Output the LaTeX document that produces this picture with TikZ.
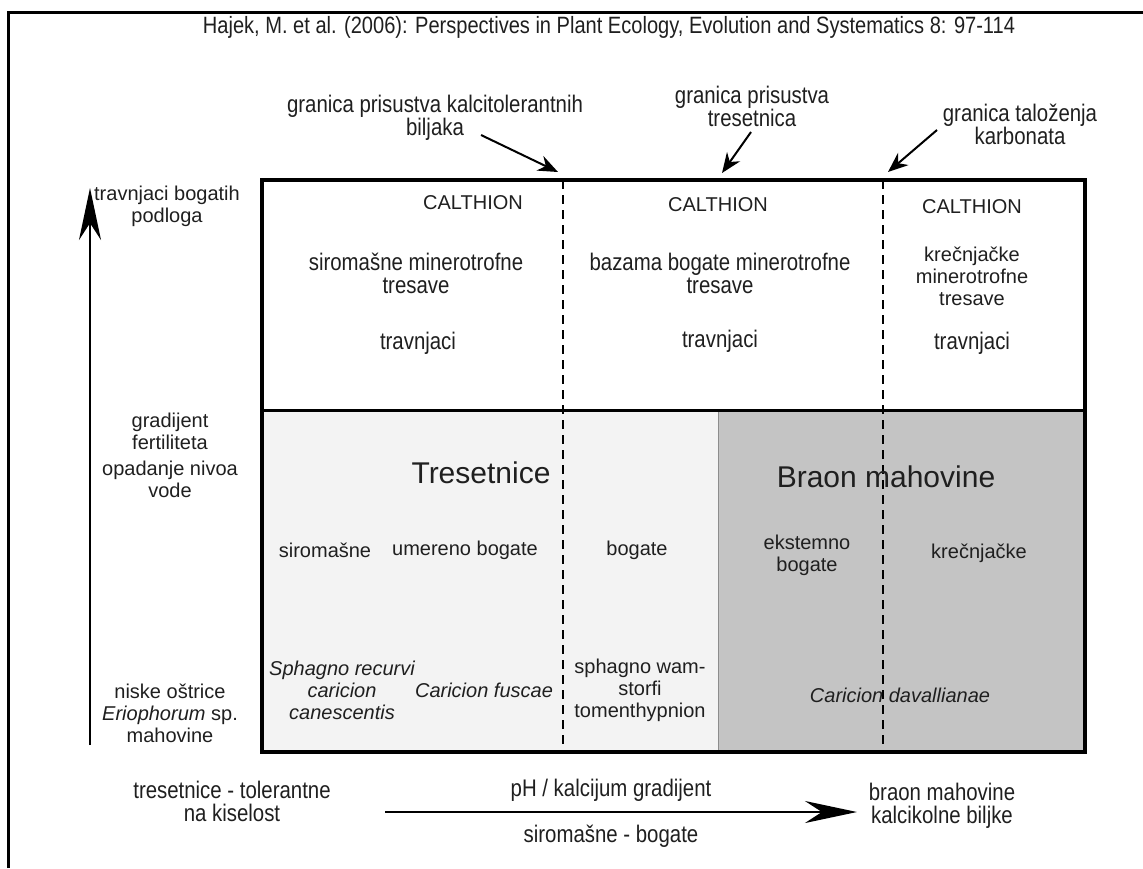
\documentclass[tikz,border=0pt]{standalone}
\usepackage{fontspec}
\setmainfont{Liberation Sans}
\newfontfamily\uskifont{Liberation Sans}[FakeStretch=0.85]
\usetikzlibrary{arrows.meta}
\definecolor{svijetlo}{HTML}{F3F3F3}
\definecolor{sivo}{HTML}{C4C4C4}
\tikzset{
	txt/.style = {align=center, inner sep=0pt, text=black!88},
	txt_u/.style = {txt, font=\uskifont\fontsize{12}{11.5}\selectfont},% uski font
	txt_r/.style = {txt, font=\fontsize{10}{11}\selectfont},% obicni font
	txt_i/.style = {txt, font=\fontsize{10}{11}\selectfont\itshape},% latinski nazivi
	txt_v/.style = {txt, font=\fontsize{15}{18}\selectfont},% veliki natpisi
	strelica/.style = {-{Stealth[length=10pt,width=8pt]}, line width=1pt},
	strelica_v/.style = {-{Stealth[length=26pt,width=11pt]}, line width=1.4pt},
	granica/.style = {dash pattern=on 4.5pt off 3pt, line width=0.7pt}
}

\begin{document}
\begin{tikzpicture}[x=0.5pt, y=-0.5pt]
	\useasboundingbox (0,0) rectangle (1143,868);
	\draw[line width=1.5pt] (8,868) -- (8,12) -- (1143,12);
	\node[txt, font=\uskifont\fontsize{11.8}{14}\selectfont] (naslov) at (609,27)
		{Hajek, M. et al. (2006): Perspectives in Plant Ecology, Evolution and Systematics 8: 97-114};
	% granice iznad tabele
	\node[txt_u] (grA) at (435,118) {granica prisustva kalcitolerantnih\\biljaka};
	\node[txt_u] (grB) at (752,106) {granica prisustva\\tresetnica};
	\node[txt_u] (grC) at (1020,124) {granica taloženja\\karbonata};
	\coordinate (grA_s) at (481,135); \coordinate (grA_k) at (558,172);
	\coordinate (grB_s) at (751,132); \coordinate (grB_k) at (722,173);
	\coordinate (grC_s) at (937,130); \coordinate (grC_k) at (888,172);
	\draw[strelica] (grA_s) -- (grA_k);
	\draw[strelica] (grB_s) -- (grB_k);
	\draw[strelica] (grC_s) -- (grC_k);
	% tabela
	\fill[svijetlo] (262,410) rectangle (718,752);
	\fill[sivo] (718,410) rectangle (1085,752);
	\draw[black!45, line width=0.5pt] (718,410) -- (718,752);
	\draw[granica] (563,180) -- (563,752);
	\draw[granica] (883,180) -- (883,752);
	\draw[line width=1.5pt] (262,410) -- (1085,410);
	\draw[line width=1.8pt] (262,180) rectangle (1085,752);
	% gornji dio
	\node[txt_r] (cal1) at (473,203) {CALTHION};
	\node[txt_r] (cal2) at (718,205) {CALTHION};
	\node[txt_r] (cal3) at (972,207) {CALTHION};
	\node[txt_u] (tres1) at (416,273) {siromašne minerotrofne\\tresave};
	\node[txt_u] (tres2) at (720,273) {bazama bogate minerotrofne\\tresave};
	\node[txt_r] (tres3) at (972,276) {krečnjačke\\minerotrofne\\tresave};
	\node[txt_u] (trav1) at (418,343) {travnjaci};
	\node[txt_u] (trav2) at (720,341) {travnjaci};
	\node[txt_u] (trav3) at (972,343) {travnjaci};
	% donji dio
	\node[txt_v] (tresetnice) at (481,473) {Tresetnice};
	\node[txt_v] (braon) at (886,477) {Braon mahovine};
	\node[txt_r] (siromasne) at (325,550) {siromašne};
	\node[txt_r] (umereno) at (465,550) {umereno bogate};
	\node[txt_r] (bogate) at (637,550) {bogate};
	\node[txt_r] (ekstremno) at (807,555) {ekstemno\\bogate};
	\node[txt_r] (krecnjacke) at (979,553) {krečnjačke};
	\node[txt_i] (sphagno) at (342,690) {Sphagno recurvi\\caricion\\canescentis};
	\node[txt_i] (fuscae) at (484,690) {Caricion fuscae};
	\node[txt_r] (warnstorfi) at (640,690) {sphagno wam-\\storfi\\tomenthypnion};
	\node[txt_i] (davall) at (900,695) {Caricion davallianae};
	% lijeva osa
	\coordinate (osa_d) at (90,745); \coordinate (osa_g) at (90,188);
	\draw[strelica_v] (osa_d) -- (osa_g);
	\node[txt_r] (bogatih) at (167,206) {travnjaci bogatih\\podloga};
	\node[txt_r] (fert) at (170,431) {gradijent\\fertiliteta};
	\node[txt_r] (voda) at (170,479) {opadanje nivoa\\vode};
	\node[txt_r] (niske) at (170,713) {niske oštrice\\\textit{Eriophorum} sp.\\mahovine};
	% donja osa
	\coordinate (ph_l) at (385,812); \coordinate (ph_d) at (857,812);
	\draw[strelica_v] (ph_l) -- (ph_d);
	\node[txt_u] (kiselost) at (232,801) {tresetnice - tolerantne\\na kiselost};
	\node[txt_u] (ph) at (611,790) {pH / kalcijum gradijent};
	\node[txt_u] (sirbog) at (611,836) {siromašne - bogate};
	\node[txt_u] (kalc) at (942,806) {braon mahovine\\kalcikolne biljke};
\end{tikzpicture}
\end{document}
